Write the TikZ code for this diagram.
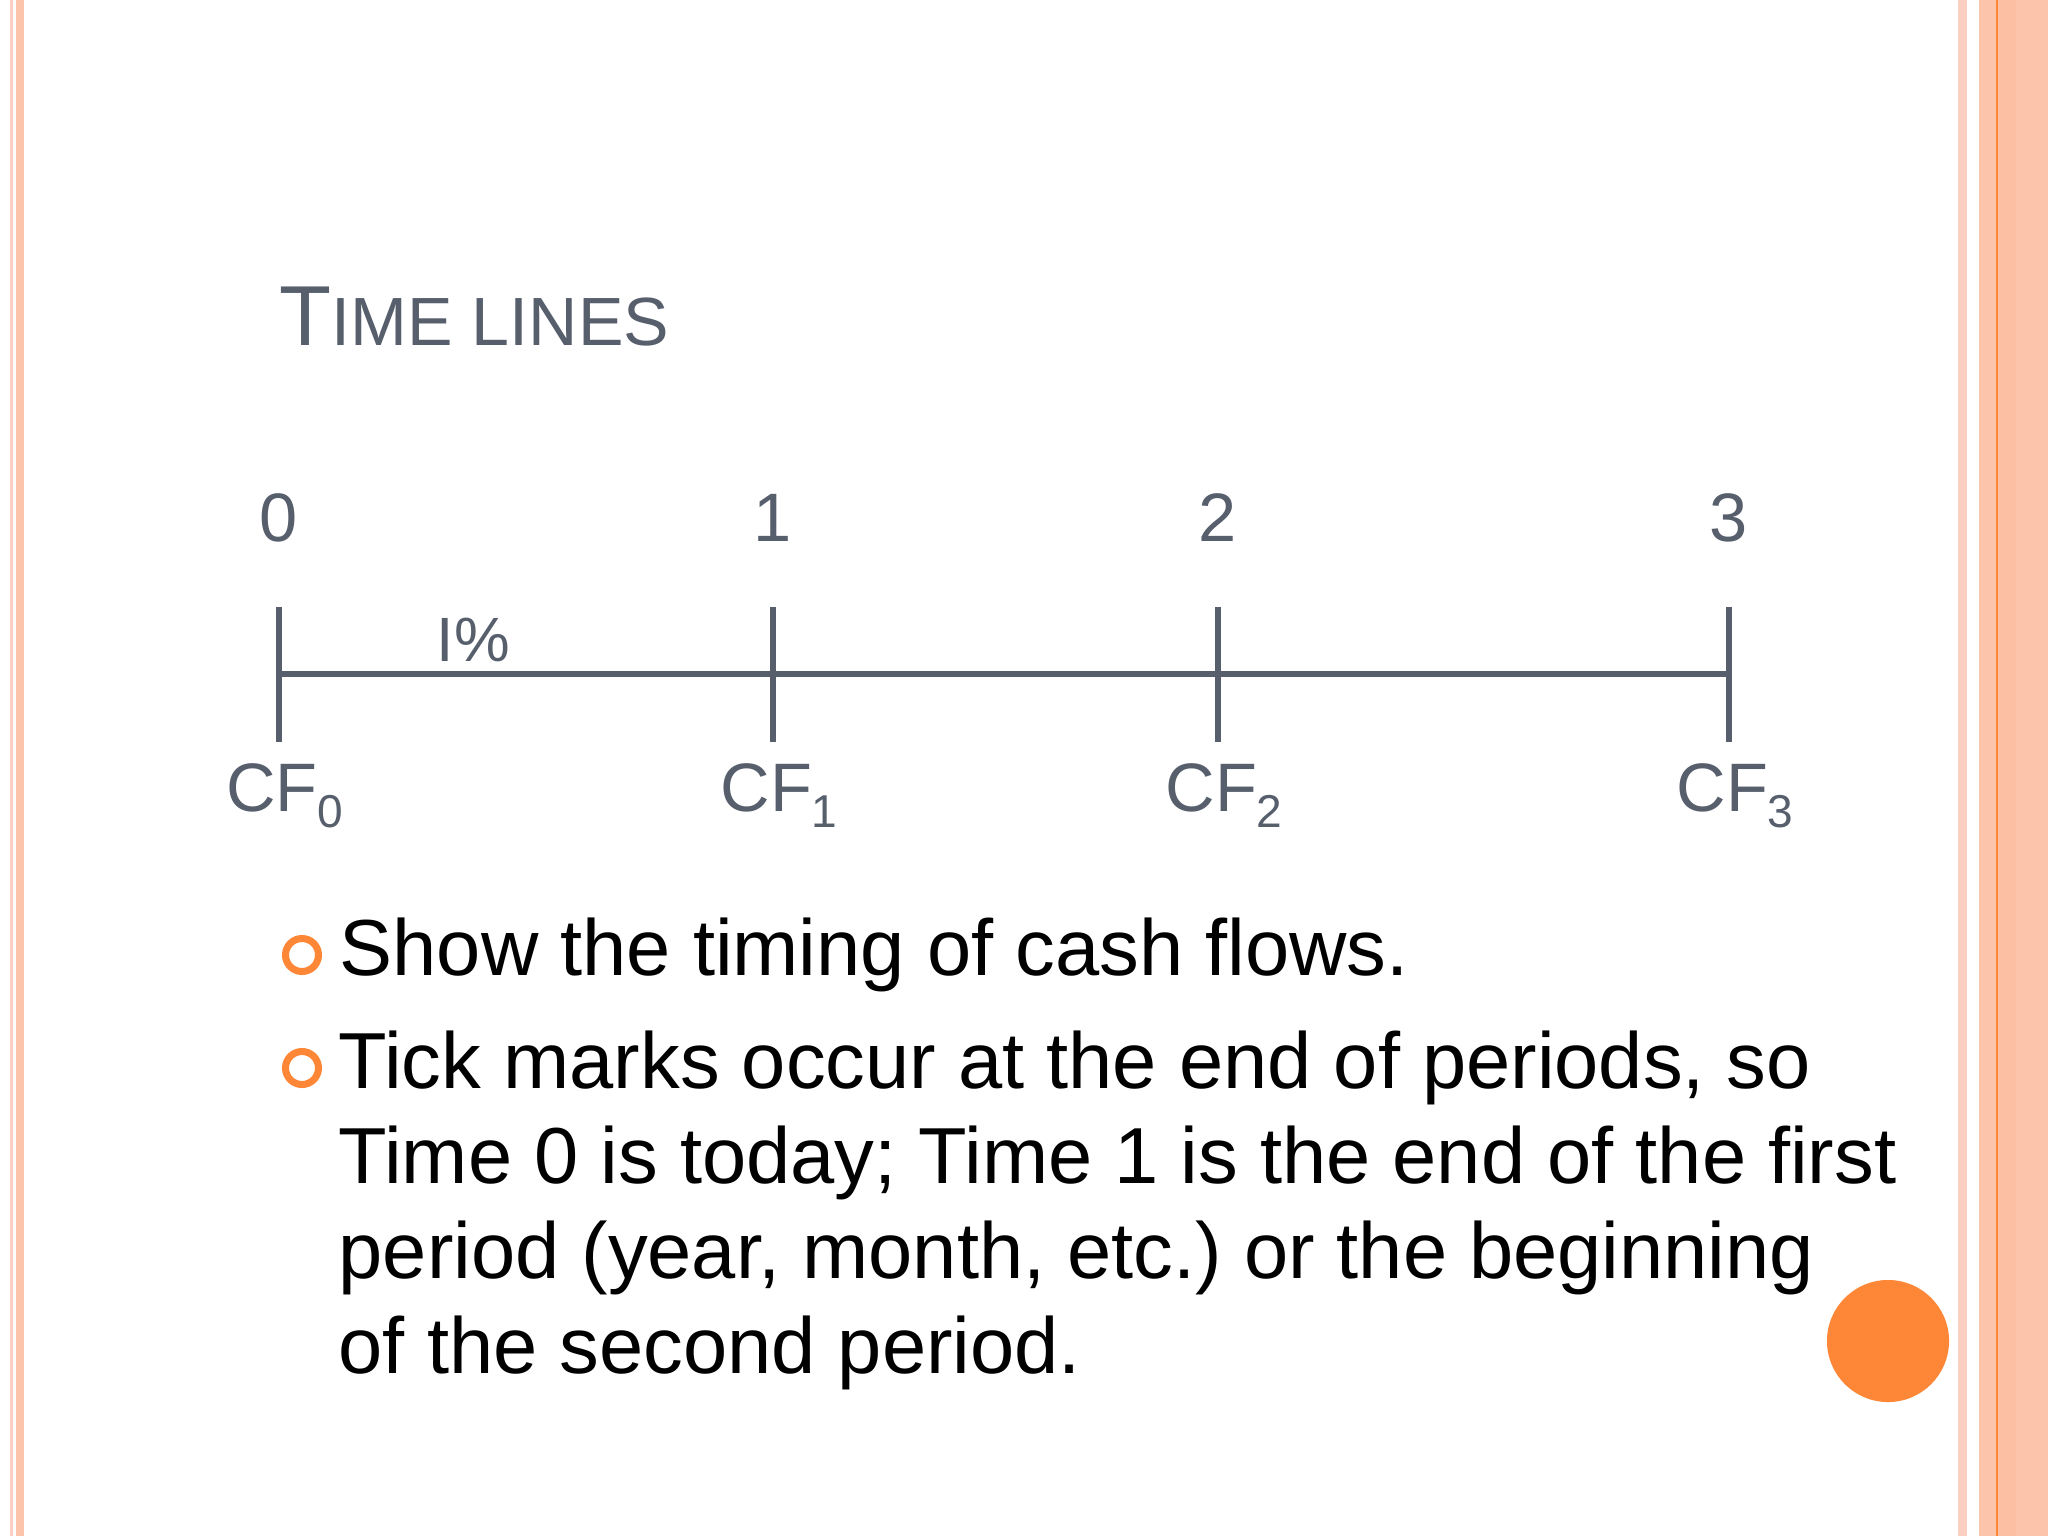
\documentclass[tikz,border=0pt]{standalone}
\usepackage{fontspec}
\setmainfont{Liberation Sans}
\usetikzlibrary{positioning}
\definecolor{slate}{HTML}{575F6D}
\definecolor{accent}{HTML}{FE8637}
\definecolor{stripelight}{HTML}{FBCFC1}
\definecolor{stripe}{HTML}{FDC4AC}
\definecolor{stripedeep}{HTML}{FDBFA4}
\newcommand{\cfsub}[1]{\raisebox{-4.6pt}{\fontsize{13.1pt}{15pt}\selectfont #1}}
\tikzset{
tickmark/.style={draw=slate, line width=1.6pt}, % ticks and the line itself
ticknum/.style={inner sep=0pt, anchor=base, text=slate, font=\fontsize{19.5pt}{23pt}\selectfont},
cflabel/.style={ticknum},
body/.style={inner sep=0pt, anchor=base west, font=\fontsize{22.6pt}{27pt}\selectfont},
ring/.style={circle, draw=accent, line width=2pt, minimum size=0.33cm, inner sep=0pt},
}
\begin{document}
\begin{tikzpicture}[x=0.01cm, y=-0.01cm]
    \useasboundingbox (0,0) rectangle (2048,1536);
    \fill[white] (0,0) rectangle (2048,1536);
    % side stripes
    \fill[stripelight] (10,0) rectangle (13,1536);
    \fill[stripe] (16,0) rectangle (24,1536);
    \fill[stripelight] (1958,0) rectangle (1967,1536);
    \fill[stripe] (1979,0) rectangle (2048,1536);
    \fill[stripedeep] (1998,0) rectangle (2016,1536);
    \fill[accent] (1996,0) rectangle (1998,1536);

    % title
    \node[inner sep=0pt, anchor=base west, text=slate] (title) at (279,345)
        {\fontsize{24.2pt}{28pt}\selectfont T\fontsize{19.4pt}{23pt}\selectfont IME LINES};

    % the time line
    \foreach \n/\x in {0/279, 1/773, 2/1218, 3/1729} {
        \coordinate (top\n) at (\x,607);
        \coordinate (mid\n) at (\x,674);
        \coordinate (bot\n) at (\x,742);
        \draw[tickmark] (top\n) -- (bot\n);
        \node[ticknum] (num\n) at (\x,541) {\n};
        \node[cflabel] (cf\n) at (\x+6,811) {CF\cfsub{\n}};
    }
    \draw[tickmark] (mid0) -- (mid3);
    \node[ticknum, anchor=base west, font=\fontsize{17.8pt}{22pt}\selectfont] (rate) at (436,661) {I\%};

    % bullets
    \node[ring] (b1) at (302,955) {};
    \node[body] (show) at (339,975) {Show the timing of cash flows.};
    \node[ring] (b2) at (302,1068) {};
    \node[body] (l1) at (338,1088) {Tick marks occur at the end of periods, so};
    \node[body] (l2) at (338,1183) {Time 0 is today; Time 1 is the end of the first};
    \node[body] (l3) at (338,1278) {period (year, month, etc.)\ or the beginning};
    \node[body] (l4) at (338,1373) {of the second period.};

    \node[circle, fill=accent, minimum size=1.22cm, inner sep=0pt] (dot) at (1888,1341) {};
\end{tikzpicture}
\end{document}
